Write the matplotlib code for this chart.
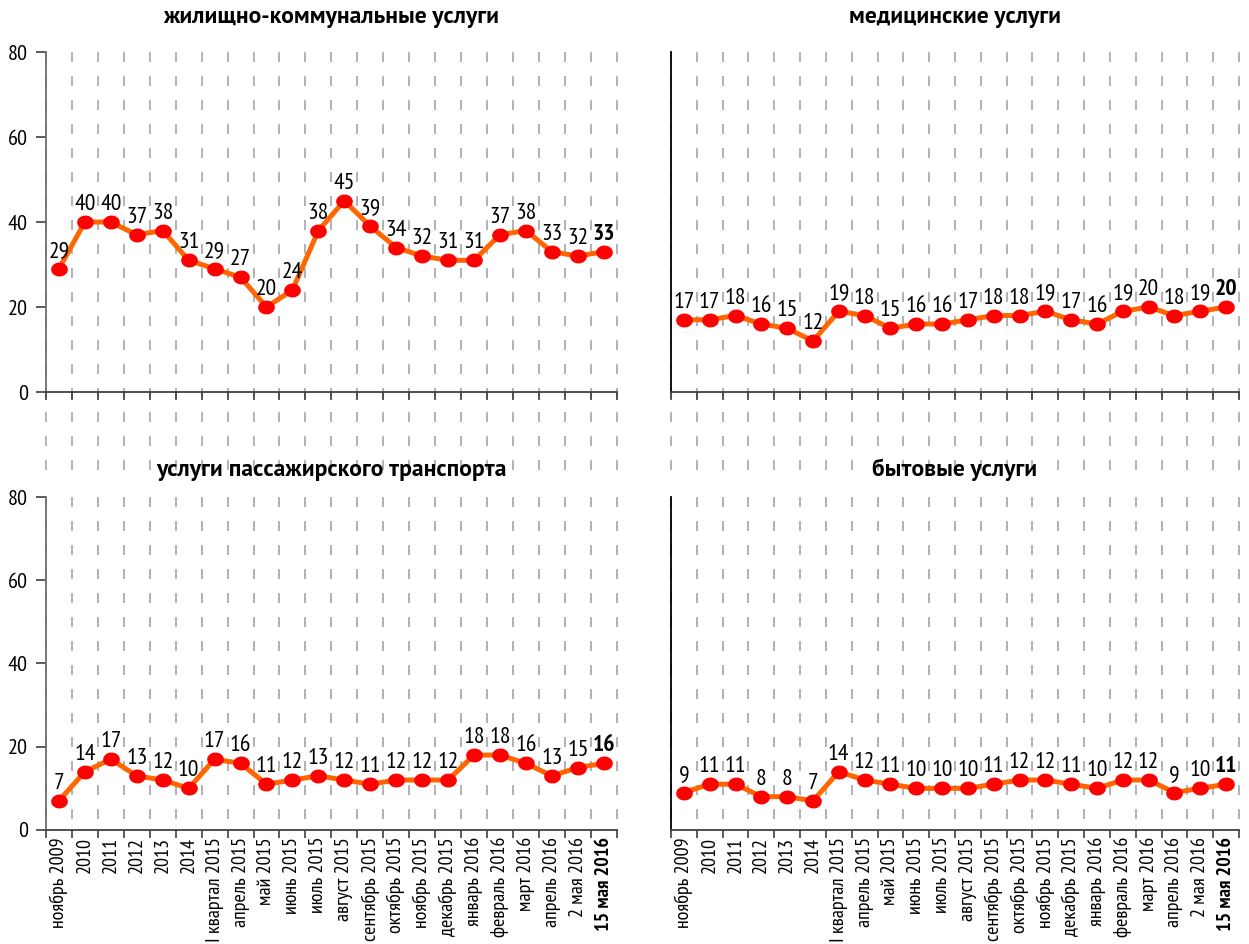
import numpy as np
import matplotlib
matplotlib.use('Agg')
import matplotlib.pyplot as plt

plt.rcParams['font.family'] = ['PT Sans Narrow', 'DejaVu Sans']

# periods on the category axis
categories = ['ноябрь 2009', '2010', '2011', '2012', '2013', '2014',
              'I квартал 2015', 'апрель 2015', 'май 2015', 'июнь 2015',
              'июль 2015', 'август 2015', 'сентябрь 2015', 'октябрь 2015',
              'ноябрь 2015', 'декабрь 2015', 'январь 2016', 'февраль 2016',
              'март 2016', 'апрель 2016', '2 мая 2016', '15 мая 2016']

# shares per service type
housing = [29, 40, 40, 37, 38, 31, 29, 27, 20, 24, 38, 45, 39, 34, 32, 31,
           31, 37, 38, 33, 32, 33]
medical = [17, 17, 18, 16, 15, 12, 19, 18, 15, 16, 16, 17, 18, 18, 19, 17,
           16, 19, 20, 18, 19, 20]
transport = [7, 14, 17, 13, 12, 10, 17, 16, 11, 12, 13, 12, 11, 12, 12, 12,
             18, 18, 16, 13, 15, 16]
household = [9, 11, 11, 8, 8, 7, 14, 12, 11, 10, 10, 10, 11, 12, 12, 11,
             10, 12, 12, 9, 10, 11]

titles = ['жилищно-коммунальные услуги', 'медицинские услуги',
          'услуги пассажирского транспорта', 'бытовые услуги']
yticks = [0, 20, 40, 60, 80]

fig = plt.figure(figsize=(12.49, 9.44), dpi=100)

# panel boxes: left, bottom, width, height (figure fraction)
boxes = [[0.0368, 0.5847, 0.4570, 0.3602],
         [0.5372, 0.5847, 0.4548, 0.3602],
         [0.0368, 0.1208, 0.4570, 0.3527],
         [0.5372, 0.1208, 0.4548, 0.3527]]
title_y = [0.981, 0.981, 0.502, 0.502]
series = [housing, medical, transport, household]

n = len(categories)
x = np.arange(n)

# slightly flattened round marker
t = np.linspace(0, 2 * np.pi, 41)
oval = list(zip(np.cos(t), 0.82 * np.sin(t)))

for i in range(4):
    ax = fig.add_axes(boxes[i])
    vals = series[i]
    left_col = i % 2 == 0
    top_row = i < 2

    # dashed vertical grid at category borders, running past the axis
    grid_bottom = -21 if top_row else 0
    for b in np.arange(n + 1) - 0.5:
        ax.plot([b, b], [80, grid_bottom], color='#a6a6a6', lw=1.2,
                dashes=(6, 8.4), clip_on=False, zorder=1)

    ax.plot(x, vals, color='#ff6600', lw=3.6, zorder=3)
    ax.plot(x, vals, marker=oval, ls='none', color='#ff0000', ms=11,
            mec='#ff0000', zorder=4)

    for j, v in enumerate(vals):
        last = j == n - 1
        ax.annotate(f'{v:.0f}', (x[j], v), xytext=(0, 5),
                    textcoords='offset points', ha='center', va='bottom',
                    fontsize=17, fontweight='bold' if last else 'normal')

    ax.set_xlim(-0.5, n - 0.5)
    ax.set_ylim(0, 80)

    for s in ['top', 'right']:
        ax.spines[s].set_visible(False)
    ax.spines['left'].set_color('#6e6e6e' if left_col else '#000000')
    ax.spines['bottom'].set_color('#404040')
    ax.spines['left'].set_linewidth(1.3)
    ax.spines['bottom'].set_linewidth(1.3)

    # category borders carry the tick marks, centres carry the labels
    ax.set_xticks(np.arange(n + 1) - 0.5, minor=True)
    ax.tick_params(axis='x', which='minor', length=6, width=1.2,
                   color='#404040', direction='out')
    ax.set_xticks(x)
    if top_row:
        ax.set_xticklabels([])
    else:
        ax.set_xticklabels(categories, rotation=90, fontsize=14.5)
        ax.get_xticklabels()[-1].set_fontweight('bold')
    ax.tick_params(axis='x', which='major', length=0, pad=5)

    ax.set_yticks(yticks)
    if left_col:
        ax.tick_params(axis='y', length=7, width=1.2, color='#404040',
                       labelsize=16, pad=6)
    else:
        ax.tick_params(axis='y', length=0, labelleft=False)

    cx = boxes[i][0] + boxes[i][2] / 2
    fig.text(cx, title_y[i], titles[i], fontsize=17, fontweight='bold',
             ha='center', va='center', family=['PT Sans', 'PT Sans Narrow'])

plt.savefig('out.png', dpi=100)
plt.close()
